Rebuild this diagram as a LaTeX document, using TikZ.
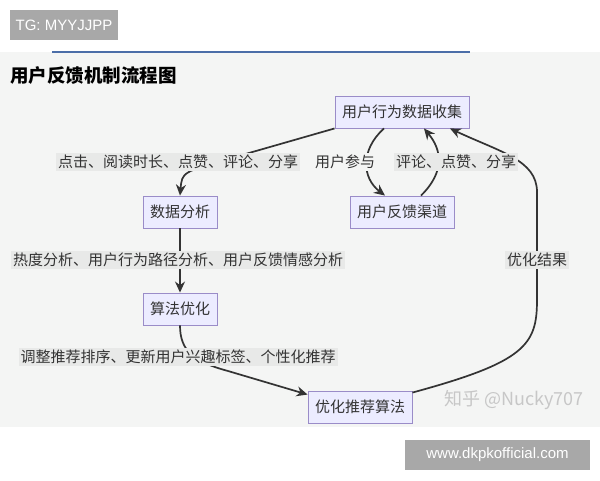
\documentclass[tikz,border=0pt]{standalone}
\usepackage{fontspec}
\setmainfont{Liberation Sans}
\newfontfamily\cjk{Noto Sans CJK SC}
\usetikzlibrary{arrows.meta, positioning}
\definecolor{boxfill}{HTML}{ECECFF}
\definecolor{boxline}{HTML}{9A8CC8}
\definecolor{panel}{HTML}{F4F5F4}
\definecolor{lblbg}{HTML}{E8E9E8}
\definecolor{ink}{HTML}{333333}
\definecolor{rule}{HTML}{4B6EA8}
\tikzset{
    every box/.style={draw=boxline, fill=boxfill, text=ink, font=\cjk\fontsize{15}{15}\selectfont,
        line width=0.9pt, inner xsep=7pt, minimum height=32pt},
    elabel/.style={fill=lblbg, text=ink, font=\cjk\fontsize{15}{15}\selectfont, inner sep=2pt},
    tag/.style={fill=black!34, text=white, font=\fontsize{15}{15}\selectfont, inner sep=0pt}
}

\begin{document}
\begin{tikzpicture}[
        x=1pt, y=-1pt,
        -{Stealth[length=11pt, width=10pt]}, line width=1.7pt, draw=ink
    ]
        \useasboundingbox (0,0) rectangle (600,480);
        % background
        \fill[panel, draw=none] (0,52) rectangle (600,427);
        \draw[-, draw=rule, line width=1.5pt] (52,52) -- (470,52);
        \node[tag, minimum width=108pt, minimum height=30pt] (tg) at (64,25) {TG: MYYJJPP};
        \node[tag, minimum width=185pt, minimum height=30pt] (www) at (497.5,455) {www.dkpkofficial.com};
        \node[anchor=west, text=black, font=\cjk\bfseries\fontsize{18.5}{18.5}\selectfont] (title) at (6,75) {用户反馈机制流程图};
        \node[text=black!22, font=\cjk\fontsize{18}{18}\selectfont] (mark) at (514,400) {知乎 @Nucky707};

        \node[every box] (collect) at (402,112) {用户行为数据收集};
        \node[every box] (analysis) at (180,212) {数据分析};
        \node[every box] (channel) at (402,212) {用户反馈渠道};
        \node[every box] (algo) at (180,309) {算法优化};
        \node[every box] (result) at (360,407) {优化推荐算法};

        \draw (collect.south west) -- (235,157) .. controls (182,172) .. (analysis.north);
        \draw ([xshift=-18pt]collect.south) .. controls (360,150) and (362,178) .. ([xshift=-17pt]channel.north);
        \draw ([xshift=19pt]channel.north) .. controls (445,172) and (442,150) .. ([xshift=22pt]collect.south);
        \draw (analysis) -- (algo);
        \draw (algo.south) .. controls (180,352) and (195,362) .. (228,371) -- ([yshift=-4pt]result.north west);
        \draw ([yshift=-2pt]result.north east) .. controls (525,362) and (537,345) .. (537,300)
            -- (537,192) .. controls (537,160) and (500,152) .. ([xshift=48pt]collect.south);

        \node[elabel] (l1) at (178,162) {点击、阅读时长、点赞、评论、分享};
        \node[elabel, fill=panel] (l2) at (345,162) {用户参与};
        \node[elabel] (l3) at (456,162) {评论、点赞、分享};
        \node[elabel] (l4) at (178,260) {热度分析、用户行为路径分析、用户反馈情感分析};
        \node[elabel] (l5) at (537,260) {优化结果};
        \node[elabel] (l6) at (178,357) {调整推荐排序、更新用户兴趣标签、个性化推荐};
    \end{tikzpicture}
\end{document}
